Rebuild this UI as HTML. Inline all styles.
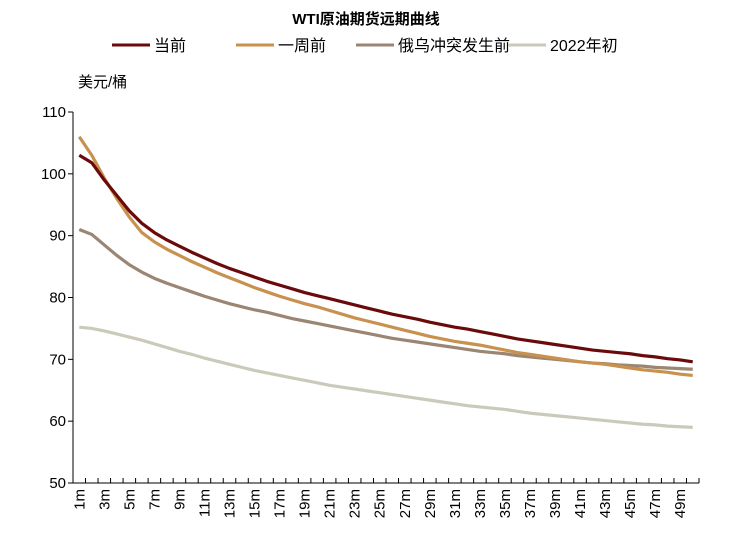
<!DOCTYPE html>
<html><head><meta charset="utf-8"><style>
body{margin:0;background:#fff;font-family:"Liberation Sans","Noto Sans CJK SC",sans-serif}
</style></head><body>
<svg id="c" width="732" height="539" xmlns="http://www.w3.org/2000/svg"></svg>
<script>
const categories=[];for(let i=1;i<=50;i++)categories.push(i+'m');
const seriesNames=['当前','一周前','俄乌冲突发生前','2022年初'];
const current=[103,101.8,99,96.5,94,92,90.5,89.3,88.3,87.3,86.4,85.5,84.7,84,83.3,82.6,82,81.4,80.8,80.3,79.8,79.3,78.8,78.3,77.8,77.3,76.9,76.5,76,75.6,75.2,74.9,74.5,74.1,73.7,73.3,73,72.7,72.4,72.1,71.8,71.5,71.3,71.1,70.9,70.6,70.4,70.1,69.9,69.6];
const weekAgo=[106,103,99.3,96,93,90.5,89,87.8,86.8,85.8,84.9,84,83.2,82.4,81.6,80.9,80.2,79.6,79,78.5,77.9,77.3,76.7,76.2,75.7,75.2,74.7,74.2,73.7,73.3,72.9,72.6,72.3,71.9,71.5,71.1,70.8,70.5,70.2,69.9,69.6,69.4,69.2,68.9,68.6,68.3,68.1,67.9,67.6,67.4];
const preWar=[91,90.2,88.5,86.8,85.3,84.1,83.1,82.3,81.6,80.9,80.2,79.6,79,78.5,78,77.6,77.1,76.6,76.2,75.8,75.4,75,74.6,74.2,73.8,73.4,73.1,72.8,72.5,72.2,71.9,71.6,71.3,71.1,70.9,70.6,70.4,70.2,70,69.8,69.6,69.4,69.3,69.1,69,68.9,68.7,68.6,68.5,68.4];
const start2022=[75.2,75,74.6,74.1,73.6,73.1,72.5,71.9,71.3,70.8,70.2,69.7,69.2,68.7,68.2,67.8,67.4,67,66.6,66.2,65.8,65.5,65.2,64.9,64.6,64.3,64,63.7,63.4,63.1,62.8,62.5,62.3,62.1,61.9,61.6,61.3,61.1,60.9,60.7,60.5,60.3,60.1,59.9,59.7,59.5,59.4,59.2,59.1,59];
const yTicks=[50,60,70,80,90,100,110];
const svg=document.getElementById('c'),NS='http://www.w3.org/2000/svg';
const L=73,R=699,T=112,B=483,ymin=50,ymax=110;
const bw=(R-L)/categories.length;
const x=i=>L+(i+0.5)*bw, y=v=>B-(v-ymin)/(ymax-ymin)*(B-T);
function mk(t,a,txt){const e=document.createElementNS(NS,t);for(const k in a)e.setAttribute(k,a[k]);if(txt!=null)e.textContent=txt;svg.appendChild(e);return e;}
let e=mk('text',{x:366,y:24,'text-anchor':'middle','font-size':15,'font-weight':'bold'},'WTI原油期货远期曲线');

const colors=['#6b0a0a','#c8914e','#9b8573','#cbcaba'];
const lx=[112,236,356,508];
seriesNames.forEach((n,k)=>{
 let l=mk('line',{x1:lx[k],x2:lx[k]+38,y1:45,y2:45,stroke:colors[k],'stroke-width':3});
 
 let t=mk('text',{x:lx[k]+42,y:51,'font-size':16},n);
 
});
e=mk('text',{x:78,y:87,'font-size':15},'美元/桶');

e=mk('line',{x1:L,x2:L,y1:T,y2:B,stroke:'#000','stroke-width':1});

yTicks.forEach(v=>{
 let tk=mk('line',{x1:L-5,x2:L,y1:y(v),y2:y(v),stroke:'#000'});
 
 let t=mk('text',{x:66,y:y(v)+5,'text-anchor':'end','font-size':15},v);
 
});
e=mk('line',{x1:L,x2:R,y1:B,y2:B,stroke:'#000'});

for(let i=0;i<=categories.length;i++){
 let tk=mk('line',{x1:L+i*bw,x2:L+i*bw,y1:B,y2:B-5,stroke:'#000'});
 
}
categories.forEach((c,i)=>{if(i%2)return;
 let t=mk('text',{x:0,y:0,'text-anchor':'end','font-size':15,transform:`translate(${x(i)+5},${B+6}) rotate(-90)`},c);
 
});
[current,weekAgo,preWar,start2022].reverse().forEach((s,ri)=>{
 const k=3-ri;
 let p=mk('polyline',{points:s.map((v,i)=>x(i)+','+y(v)).join(' '),fill:'none',stroke:colors[k],'stroke-width':3.2,'stroke-linejoin':'round'});
 
});
</script>
</body></html>
